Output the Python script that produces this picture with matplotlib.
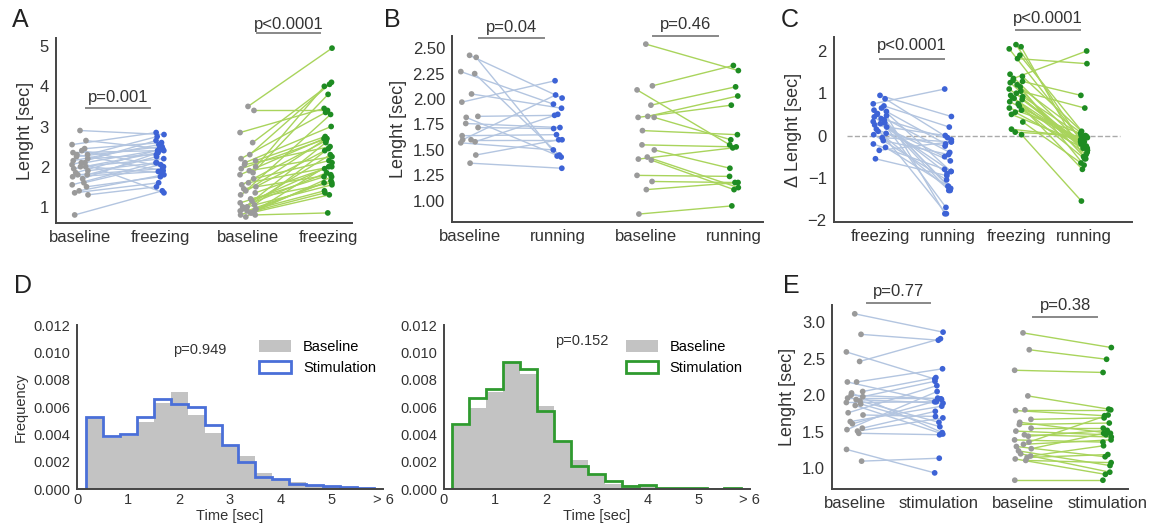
import numpy as np
import matplotlib.pyplot as plt
from matplotlib.patches import Patch

plt.rcParams['font.family'] = ['Liberation Sans', 'DejaVu Sans']

# ---- panel A: baseline vs freezing ----
A_blue_base = [2.9, 2.65, 2.55, 2.45, 2.4, 2.35, 2.3, 2.3, 2.25, 2.2, 2.15, 2.1, 2.1, 2.05, 2.0,
               2.0, 1.95, 1.9, 1.85, 1.8, 1.8, 1.75, 1.7, 1.6, 1.55, 1.5, 1.4, 1.35, 1.3, 0.8]
A_blue_frz = [2.8, 2.45, 2.85, 2.6, 2.0, 2.4, 2.75, 1.9, 2.5, 2.3, 2.55, 1.35, 2.42, 2.65, 1.85,
              2.2, 2.35, 2.1, 2.45, 1.95, 2.25, 1.88, 2.4, 2.05, 2.1, 1.75, 1.8, 1.6, 1.5, 1.4]
A_green_base = [3.5, 3.4, 2.85, 2.6, 2.3, 2.2, 2.15, 2.1, 2.05, 2.0, 1.95, 1.9, 1.85, 1.8, 1.7,
                1.6, 1.55, 1.5, 1.45, 1.4, 1.35, 1.3, 1.2, 1.15, 1.1, 1.05, 1.0, 1.0, 0.95, 0.95,
                0.9, 0.9, 0.9, 0.85, 0.85, 0.8, 0.8, 0.75]
A_green_frz = [4.95, 3.4, 3.45, 4.05, 4.1, 3.35, 2.75, 3.0, 2.5, 4.0, 2.7, 2.25, 3.8, 2.7, 2.15,
               2.0, 2.65, 2.4, 1.8, 3.3, 1.95, 2.7, 1.6, 2.0, 1.75, 2.45, 1.55, 1.85, 1.4, 2.3,
               1.65, 1.35, 2.6, 1.75, 1.3, 1.6, 0.85, 2.1]

# ---- panel B: baseline vs running ----
B_blue_base = [2.43, 2.41, 2.27, 2.25, 2.05, 1.97, 1.83, 1.82, 1.76, 1.72, 1.64, 1.60, 1.58,
               1.57, 1.45, 1.37, 1.60]
B_blue_run = [2.01, 1.44, 1.95, 1.45, 1.91, 2.18, 1.84, 1.43, 1.72, 1.71, 1.65, 1.60, 1.85,
              1.50, 1.60, 1.32, 2.04]
B_green_base = [2.54, 2.13, 2.09, 1.94, 1.83, 1.82, 1.82, 1.69, 1.55, 1.50, 1.41, 1.43, 1.40,
                1.25, 1.19, 1.11, 0.87]
B_green_run = [2.28, 2.33, 1.55, 2.12, 2.03, 1.94, 1.60, 1.65, 1.53, 1.32, 1.52, 1.13, 1.11,
               1.24, 1.18, 1.18, 0.95]

# ---- panel C: delta length, freezing vs running ----
C_blue_frz = [0.95, 0.87, 0.75, 0.70, 0.65, 0.60, 0.57, 0.52, 0.50, 0.47, 0.44, 0.40, 0.37, 0.33,
              0.30, 0.28, 0.25, 0.20, 0.15, 0.10, 0.05, 0.02, -0.05, -0.12, -0.20, -0.28, -0.35, -0.55]
C_blue_run = [0.45, -0.05, 1.10, 0.20, -0.85, -1.70, -0.20, -1.25, -0.40, -1.85, -0.90, -0.10,
              -1.20, -0.50, -1.30, -0.85, -1.85, 0.0, -0.60, -1.30, -0.25, -1.05, -0.15, -0.45,
              -0.80, -1.20, -0.15, -0.95]
C_green_frz = [2.15, 2.10, 2.05, 1.90, 1.82, 1.45, 1.40, 1.35, 1.30, 1.28, 1.25, 1.20, 1.15, 1.10,
               1.05, 1.00, 0.95, 0.92, 0.90, 0.88, 0.85, 0.80, 0.75, 0.70, 0.65, 0.60, 0.55, 0.50,
               0.32, 0.15, 0.08, 0.02]
C_green_run = [-0.35, -0.5, -0.1, 0.0, 1.7, -0.2, 0.1, 2.0, -0.55, 0.95, -0.3, -0.05, -0.7, -0.15,
               0.65, -0.4, -0.8, 0.0, -0.25, -0.45, -0.2, -0.1, -0.3, -0.55, 0.05, -0.15, -0.35,
               -0.18, -0.65, -0.05, -0.02, -1.55]

# ---- panel D: histograms ----
bin_edges = [1/6 + k/3 for k in range(18)]
D1_baseline = [0.0053, 0.0037, 0.0039, 0.0049, 0.0063, 0.0071, 0.0054, 0.0041, 0.0032, 0.0024,
               0.0012, 0.0007, 0.0005, 0.0003, 0.0002, 0.00012, 0.00007]
D1_stim = [0.0053, 0.0039, 0.0040, 0.0053, 0.0066, 0.0062, 0.0060, 0.0047, 0.0032, 0.0020,
           0.0009, 0.0007, 0.0004, 0.00027, 0.0002, 0.00015, 0.0001]
D2_baseline = [0.0046, 0.0059, 0.0071, 0.0092, 0.0084, 0.0061, 0.0035, 0.0021, 0.0011, 0.0004,
               0.0003, 0.0003, 0.0001, 0.00007, 0.00005, 0.00003, 0.00008]
D2_stim = [0.00475, 0.00665, 0.0073, 0.0093, 0.0088, 0.0057, 0.0035, 0.00165, 0.0011, 0.0006,
           0.0002, 0.0003, 0.0001, 0.00007, 0.00007, 0.0, 0.0001]

# ---- panel E: baseline vs stimulation ----
E_blue_base = [3.11, 2.83, 2.59, 2.46, 2.18, 2.18, 2.05, 2.03, 2.00, 1.98, 1.96, 1.94, 1.92, 1.90,
               1.88, 1.86, 1.76, 1.73, 1.64, 1.61, 1.55, 1.53, 1.51, 1.48, 1.26, 1.10]
E_blue_stim = [2.86, 2.75, 2.22, 2.77, 2.36, 1.91, 2.24, 1.49, 1.95, 2.19, 1.96, 1.89, 1.63, 1.91,
               1.57, 1.47, 2.13, 1.71, 1.85, 1.94, 1.78, 2.05, 1.69, 1.46, 0.94, 1.14]
E_green_base = [2.85, 2.62, 2.34, 1.99, 1.80, 1.79, 1.67, 1.63, 1.60, 1.55, 1.51, 1.46, 1.44, 1.39,
                1.36, 1.33, 1.30, 1.27, 1.24, 1.20, 1.17, 1.13, 1.11, 1.15, 0.84]
E_green_stim = [2.65, 2.49, 2.31, 1.81, 1.80, 1.72, 1.69, 1.48, 1.62, 1.55, 1.46, 1.43, 1.52, 1.36,
                1.73, 1.39, 1.16, 1.48, 1.04, 0.95, 1.31, 0.92, 1.08, 1.19, 0.84]

GRAY = '#9a9a9a'
BLUE = '#3d63d6'
BLUE_LINE = '#b3c5e0'
GREEN = '#1e8c22'
GREEN_LINE = '#a9d45c'
TXT = '#333333'


def style(ax, fs=12):
    for s in ['top', 'right']:
        ax.spines[s].set_visible(False)
    for s in ['left', 'bottom']:
        ax.spines[s].set_color('#444444')
        ax.spines[s].set_linewidth(1.4)
    ax.tick_params(length=0, labelsize=fs, colors=TXT, pad=5)


def paired(ax, x0, x1, a, b, c0, c1, lc):
    n = len(a)
    k = np.arange(n)
    xa = x0 + 0.1 * np.sin(k * 2.3)
    xb = x1 + 0.05 * np.cos(k * 1.7)
    for i in range(n):
        ax.plot([xa[i], xb[i]], [a[i], b[i]], color=lc, lw=1, zorder=1)
    ax.scatter(xa, a, s=17, color=c0, zorder=3, edgecolors='none')
    ax.scatter(xb, b, s=17, color=c1, zorder=3, edgecolors='none')


def pbar(ax, x0, x1, y, ty, txt):
    ax.plot([x0, x1], [y, y], color='#888888', lw=1.4, clip_on=False)
    ax.text((x0 + x1) / 2, ty, txt, ha='center', va='center', fontsize=12, color=TXT)


fig = plt.figure(figsize=(11.5, 5.29), dpi=100)

# A
axA = fig.add_axes([0.0487, 0.5785, 0.2574, 0.3495])
style(axA)
paired(axA, 0, 1, A_blue_base, A_blue_frz, GRAY, BLUE, BLUE_LINE)
paired(axA, 2.1, 3.1, A_green_base, A_green_frz, GRAY, GREEN, GREEN_LINE)
axA.set_xlim(-0.3, 3.4)
axA.set_ylim(0.6, 5.2)
axA.set_yticks([1, 2, 3, 4, 5])
axA.set_xticks([0, 1, 2.1, 3.1])
axA.set_xticklabels(['baseline', 'freezing', 'baseline', 'freezing'])
axA.set_ylabel('Lenght [sec]', fontsize=13, color=TXT)
pbar(axA, 0.075, 0.875, 3.46, 3.73, 'p=0.001')
pbar(axA, 2.21, 3.0, 5.32, 5.55, 'p<0.0001')

# B
axB = fig.add_axes([0.393, 0.580, 0.2705, 0.352])
style(axB)
paired(axB, 0, 1, B_blue_base, B_blue_run, GRAY, BLUE, BLUE_LINE)
paired(axB, 2, 3, B_green_base, B_green_run, GRAY, GREEN, GREEN_LINE)
axB.set_xlim(-0.2, 3.33)
axB.set_ylim(0.79, 2.62)
axB.set_yticks([1.0, 1.25, 1.5, 1.75, 2.0, 2.25, 2.5])
axB.set_yticklabels(['1.00', '1.25', '1.50', '1.75', '2.00', '2.25', '2.50'])
axB.set_xticks([0, 1, 2, 3])
axB.set_xticklabels(['baseline', 'running', 'baseline', 'running'])
axB.set_ylabel('Lenght [sec]', fontsize=13, color=TXT)
pbar(axB, 0.11, 0.84, 2.60, 2.70, 'p=0.04')
pbar(axB, 2.08, 2.82, 2.62, 2.73, 'p=0.46')

# C
axC = fig.add_axes([0.725, 0.580, 0.259, 0.350])
style(axC)
axC.plot([-0.49, 3.53], [0, 0], color='#aaaaaa', lw=1, ls='--', zorder=0)
paired(axC, 0, 1, C_blue_frz, C_blue_run, BLUE, BLUE, BLUE_LINE)
paired(axC, 2, 3, C_green_frz, C_green_run, GREEN, GREEN, GREEN_LINE)
axC.set_xlim(-0.68, 3.7)
axC.set_ylim(-2.05, 2.33)
axC.set_yticks([-2, -1, 0, 1, 2])
axC.set_yticklabels(['\u22122', '\u22121', '0', '1', '2'])
axC.set_xticks([0, 1, 2, 3])
axC.set_xticklabels(['freezing', 'running', 'freezing', 'running'])
axC.set_ylabel('\u0394 Lenght [sec]', fontsize=13, color=TXT)
pbar(axC, 0.0, 0.94, 1.80, 2.13, 'p<0.0001')
pbar(axC, 2.0, 2.94, 2.50, 2.76, 'p<0.0001')

# D
for left, base, stim, col, ptxt, px, py in [
        (0.067, D1_baseline, D1_stim, '#4a6fd8', 'p=0.949', 2.4, 0.0102),
        (0.386, D2_baseline, D2_stim, '#2f9a2f', 'p=0.152', 2.7, 0.0108)]:
    ax = fig.add_axes([left, 0.0756, 0.266, 0.31])
    style(ax, fs=10.5)
    ax.stairs(base, bin_edges, fill=True, color='#c3c3c3', zorder=1)
    ax.stairs(stim, bin_edges, baseline=0, color=col, lw=2, zorder=2)
    ax.set_xlim(0, 6)
    ax.set_ylim(0, 0.012)
    ax.set_xticks([0, 1, 2, 3, 4, 5, 6])
    ax.set_xticklabels(['0', '1', '2', '3', '4', '5', '> 6'])
    ax.set_yticks([0, 0.002, 0.004, 0.006, 0.008, 0.010, 0.012])
    ax.set_yticklabels(['0.000', '0.002', '0.004', '0.006', '0.008', '0.010', '0.012'])
    ax.tick_params(axis='x', pad=3)
    ax.set_xlabel('Time [sec]', fontsize=10.5, color=TXT, labelpad=1)
    if left < 0.1:
        ax.set_ylabel('Frequency', fontsize=10.5, color=TXT)
    ax.text(px, py, ptxt, ha='center', va='center', fontsize=10.5, color=TXT)
    handles = [Patch(facecolor='#c3c3c3', edgecolor='none', label='Baseline'),
               Patch(facecolor='white', edgecolor=col, lw=2, label='Stimulation')]
    ax.legend(handles=handles, loc='upper right', bbox_to_anchor=(1.02, 0.99), frameon=False,
              fontsize=10.5, handlelength=2.2, handleheight=0.9, labelspacing=0.5)

# E
axE = fig.add_axes([0.7235, 0.0756, 0.2575, 0.3478])
style(axE)
paired(axE, 0, 1, E_blue_base, E_blue_stim, GRAY, BLUE, BLUE_LINE)
paired(axE, 2, 3, E_green_base, E_green_stim, GRAY, GREEN, GREEN_LINE)
axE.set_xlim(-0.27, 3.25)
axE.set_ylim(0.72, 3.23)
axE.set_yticks([1.0, 1.5, 2.0, 2.5, 3.0])
axE.set_xticks([0, 1, 2, 3])
axE.set_xticklabels(['baseline', 'stimulation', 'baseline', 'stimulation'])
axE.set_ylabel('Lenght [sec]', fontsize=13, color=TXT)
pbar(axE, 0.14, 0.9, 3.26, 3.41, 'p=0.77')
pbar(axE, 2.12, 2.88, 3.07, 3.23, 'p=0.38')

# panel letters
for x, y, s in [(0.010, 0.962, 'A'), (0.334, 0.962, 'B'), (0.679, 0.962, 'C'),
                (0.012, 0.46, 'D'), (0.681, 0.46, 'E')]:
    fig.text(x, y, s, fontsize=18, color='#222222', va='center')

fig.savefig('out.png', dpi=100)
